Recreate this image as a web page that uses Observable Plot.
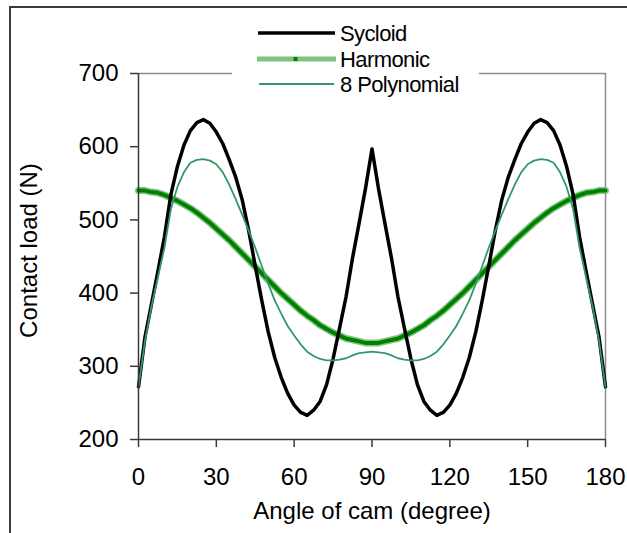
<!DOCTYPE html>
<html><head><meta charset="utf-8">
<script src="https://cdn.jsdelivr.net/npm/d3@7"></script>
<script src="https://cdn.jsdelivr.net/npm/@observablehq/plot@0.6"></script>
<style>
body{margin:0;background:#fff;}
#wrap{position:relative;width:627px;height:533px;overflow:hidden;font-family:"Liberation Sans",Arial,sans-serif;background:#fff;}
#chart{position:absolute;left:0;top:0;}
#frame{position:absolute;left:9px;top:6px;width:700px;height:600px;border-left:2px solid #3a3a3a;border-top:2px solid #3a3a3a;}
#legend{position:absolute;left:232px;top:12px;}
</style></head><body>
<div id="wrap"><div id="chart"></div><div id="frame"></div><div id="legend"></div></div>
<script>
const angles = [0,2.5,5,7.5,10,12.5,15,17.5,20,22.5,25,27.5,30,32.5,35,37.5,40,42.5,45,47.5,50,52.5,55,57.5,60,62.5,65,67.5,70,72.5,75,77.5,80,82.5,85,87.5,90,92.5,95,97.5,100,102.5,105,107.5,110,112.5,115,117.5,120,122.5,125,127.5,130,132.5,135,137.5,140,142.5,145,147.5,150,152.5,155,157.5,160,162.5,165,167.5,170,172.5,175,177.5,180];
const sycloid = [272,340,385,430,477,535,573,602,622,633,637,632,620,604,582,558,527,485,437,390,347,312,285,263,247,237,233,240,252,275,310,352,395,448,495,543,597,543,495,448,395,352,310,275,252,240,233,237,247,263,285,312,347,390,437,485,527,558,582,604,620,632,637,633,622,602,573,535,477,430,385,340,272];
const harmonic = [540,540,538,537,534,530,526,521,516,510,503,496,488,480,472,463,454,445,436,427,418,409,400,392,384,376,369,363,356,351,346,342,338,336,334,332,332,332,334,336,338,342,346,351,356,363,369,376,384,392,400,409,418,427,436,445,454,463,472,480,488,496,503,510,516,521,526,530,534,537,538,540,540];
const polynomial = [272,335,382,422,462,515,545,565,578,582,583,581,576,565,548,528,507,485,462,437,413,390,372,355,342,330,320,314,310,308,308,309,311,315,318,319,320,319,318,315,311,309,308,308,310,314,320,330,342,355,372,390,413,437,462,485,507,528,548,565,576,581,583,582,578,565,545,515,462,422,382,335,272];
const xTicks = [0,30,60,90,120,150,180];
const yTicks = [200,300,400,500,600,700];
const seriesNames = ["Sycloid","Harmonic","8 Polynomial"];
const xTitle = "Angle of cam (degree)";
const yTitle = "Contact load (N)";

const data = angles.map((a,i)=>({angle:a, sycloid:sycloid[i], harmonic:harmonic[i], polynomial:polynomial[i]}));
const dark = "#3a3a3a", gray = "#8c8c8c";

const chart = Plot.plot({
  width: 627, height: 533,
  marginLeft: 138, marginRight: 22, marginTop: 73, marginBottom: 94,
  style: {fontFamily: '"Liberation Sans", Arial, sans-serif', background: "transparent"},
  x: {domain: [0,180]},
  y: {domain: [200,700]},
  marks: [
    Plot.ruleY([700], {stroke: gray, strokeWidth: 1.5}),
    Plot.ruleX([180], {stroke: gray, strokeWidth: 1.5}),
    Plot.line(data, {x:"angle", y:"harmonic", stroke:"#80c480", strokeWidth:7}),
    Plot.line(data, {x:"angle", y:"harmonic", stroke:"#008000", strokeWidth:4}),
    Plot.line(data, {x:"angle", y:"sycloid", stroke:"#000", strokeWidth:3.5, strokeLinejoin:"round"}),
    Plot.line(data, {x:"angle", y:"polynomial", stroke:"#339966", strokeWidth:1.8}),
    Plot.ruleX([0], {stroke: dark, strokeWidth: 1.5}),
    Plot.ruleY([200], {stroke: dark, strokeWidth: 1.5}),
    Plot.axisX({ticks: xTicks, tickSize: 8, tickPadding: 20, fontSize: 24, stroke: dark, strokeWidth: 1.5, label: null, fill: "#000"}),
    Plot.axisY({ticks: yTicks, tickSize: 8, tickPadding: 12, fontSize: 24, stroke: dark, strokeWidth: 1.5, label: null, fill: "#000"}),
    Plot.text([xTitle], {frameAnchor: "bottom", dy: 79, textAnchor: "middle", fontSize: 24, fill: "#000"}),
    Plot.text([yTitle], {frameAnchor: "left", dx: -109, dy: -6, rotate: -90, textAnchor: "middle", lineAnchor: "middle", fontSize: 24, fill: "#000"})
  ]
});
document.getElementById("chart").appendChild(chart);

// legend
const lg = d3.select("#legend").append("svg").attr("width", 247).attr("height", 88)
  .style("font-family", '"Liberation Sans", Arial, sans-serif');
lg.append("rect").attr("width", 247).attr("height", 88).attr("fill", "#fff");
const rows = [
  {y: 21, name: seriesNames[0]},
  {y: 47, name: seriesNames[1]},
  {y: 72, name: seriesNames[2]}
];
lg.append("line").attr("x1", 26).attr("x2", 103).attr("y1", rows[0].y).attr("y2", rows[0].y).attr("stroke", "#000").attr("stroke-width", 3.5);
lg.append("line").attr("x1", 25).attr("x2", 104).attr("y1", rows[1].y).attr("y2", rows[1].y).attr("stroke", "#80c480").attr("stroke-width", 5);
lg.append("rect").attr("x", 61.5).attr("y", rows[1].y-2).attr("width", 4).attr("height", 4).attr("fill", "#008000");
lg.append("line").attr("x1", 27).attr("x2", 102).attr("y1", rows[2].y).attr("y2", rows[2].y).attr("stroke", "#339966").attr("stroke-width", 1.8);
rows.forEach(r => {
  lg.append("text").attr("x", 108).attr("y", r.y + 7.5).attr("font-size", 22).attr("letter-spacing", "-0.6px").attr("fill", "#000").text(r.name);
});
</script>
</body></html>
